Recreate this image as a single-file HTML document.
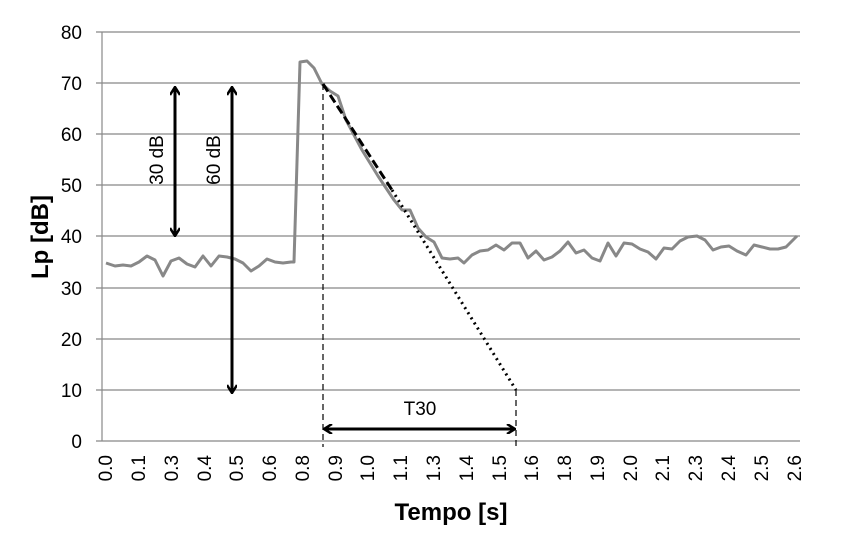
<!DOCTYPE html>
<html><head><style>body{margin:0;background:#fff}svg{display:block}</style></head><body>
<svg width="844" height="544" xmlns="http://www.w3.org/2000/svg" font-family="Liberation Sans, sans-serif">
<defs>
<marker id="ah" markerWidth="10" markerHeight="10" refX="8" refY="5" orient="auto" markerUnits="userSpaceOnUse"><path d="M1,0 L9,5 L1,10" fill="none" stroke="#000" stroke-width="2.5"/></marker>
</defs>
<g stroke="#888" stroke-width="1.2">
<line x1="96" y1="32" x2="800" y2="32"/><line x1="96" y1="83" x2="800" y2="83"/><line x1="96" y1="134" x2="800" y2="134"/><line x1="96" y1="185" x2="800" y2="185"/><line x1="96" y1="236" x2="800" y2="236"/><line x1="96" y1="288" x2="800" y2="288"/><line x1="96" y1="339" x2="800" y2="339"/><line x1="96" y1="390" x2="800" y2="390"/><line x1="96" y1="441" x2="800" y2="441"/>
<line x1="102" y1="32" x2="102" y2="441"/>
</g>
<g font-size="19" text-anchor="end" fill="#000">
<text x="82" y="39">80</text><text x="82" y="90">70</text><text x="82" y="141">60</text><text x="82" y="192">50</text><text x="82" y="243">40</text><text x="82" y="295">30</text><text x="82" y="346">20</text><text x="82" y="397">10</text><text x="82" y="448">0</text>
</g>
<g font-size="19" text-anchor="end" fill="#000">
<text transform="translate(112,455) rotate(-90)">0.0</text>
<text transform="translate(145,455) rotate(-90)">0.1</text>
<text transform="translate(178,455) rotate(-90)">0.3</text>
<text transform="translate(211,455) rotate(-90)">0.4</text>
<text transform="translate(243,455) rotate(-90)">0.5</text>
<text transform="translate(276,455) rotate(-90)">0.6</text>
<text transform="translate(309,455) rotate(-90)">0.8</text>
<text transform="translate(342,455) rotate(-90)">0.9</text>
<text transform="translate(374,455) rotate(-90)">1.0</text>
<text transform="translate(407,455) rotate(-90)">1.1</text>
<text transform="translate(440,455) rotate(-90)">1.3</text>
<text transform="translate(473,455) rotate(-90)">1.4</text>
<text transform="translate(506,455) rotate(-90)">1.5</text>
<text transform="translate(538,455) rotate(-90)">1.6</text>
<text transform="translate(571,455) rotate(-90)">1.8</text>
<text transform="translate(604,455) rotate(-90)">1.9</text>
<text transform="translate(637,455) rotate(-90)">2.0</text>
<text transform="translate(669,455) rotate(-90)">2.1</text>
<text transform="translate(702,455) rotate(-90)">2.3</text>
<text transform="translate(735,455) rotate(-90)">2.4</text>
<text transform="translate(768,455) rotate(-90)">2.5</text>
<text transform="translate(801,455) rotate(-90)">2.6</text>
</g>
<text x="451" y="520" font-size="24" font-weight="bold" text-anchor="middle">Tempo [s]</text>
<text transform="translate(48,237) rotate(-90)" font-size="24" font-weight="bold" text-anchor="middle">Lp [dB]</text>
<polyline fill="none" stroke="#888" stroke-width="3" stroke-linejoin="round" points="106,263 115,266 123,265 131,266 139,262 147,256 155,260 163,276 171,261 179,258 187,264 195,267 203,256 211,266 219,256 227,257 235,259 243,263 251,271 259,266 267,259 275,262 283,263 291,262 294,262 300,62 307,61 314,68 322,84 330,91 338,96 346,120 354,135 362,150 370,163 378,176 386,188 394,200 402,210 410,210 418,228 426,237 434,242 442,258 450,259 458,258 464,263 472,255 480,251 488,250 496,245 504,250 512,243 520,243 528,258 536,251 544,260 552,257 560,251 568,242 576,253 584,250 592,258 600,261 608,243 616,256 624,243 632,244 640,249 648,252 656,259 664,248 672,249 680,241 688,237 697,236 705,240 713,250 721,247 729,246 737,251 746,255 754,245 762,247 770,249 778,249 786,247 797,236"/>
<line x1="323" y1="84" x2="392" y2="190" stroke="#000" stroke-width="3" stroke-dasharray="9,4"/>
<line x1="392" y1="190" x2="516" y2="390" stroke="#000" stroke-width="3" stroke-dasharray="2,4"/>
<g stroke="#000" stroke-width="1.2" stroke-dasharray="6,4">
<line x1="323" y1="84" x2="323" y2="447"/><line x1="516" y1="390" x2="516" y2="447"/>
</g>
<g stroke="#000" stroke-width="3">
<line x1="175" y1="160" x2="175" y2="88" marker-end="url(#ah)"/>
<line x1="175" y1="160" x2="175" y2="235" marker-end="url(#ah)"/>
<line x1="232" y1="138" x2="232" y2="88" marker-end="url(#ah)"/>
<line x1="232" y1="138" x2="232" y2="392" marker-end="url(#ah)"/>
<line x1="420" y1="429" x2="325" y2="429" marker-end="url(#ah)"/>
<line x1="420" y1="429" x2="514" y2="429" marker-end="url(#ah)"/>
</g>
<g font-size="19" text-anchor="middle">
<text transform="translate(163,160) rotate(-90)">30 dB</text>
<text transform="translate(220,160) rotate(-90)">60 dB</text>
<text x="420" y="415">T30</text>
</g>
</svg>
</body></html>
